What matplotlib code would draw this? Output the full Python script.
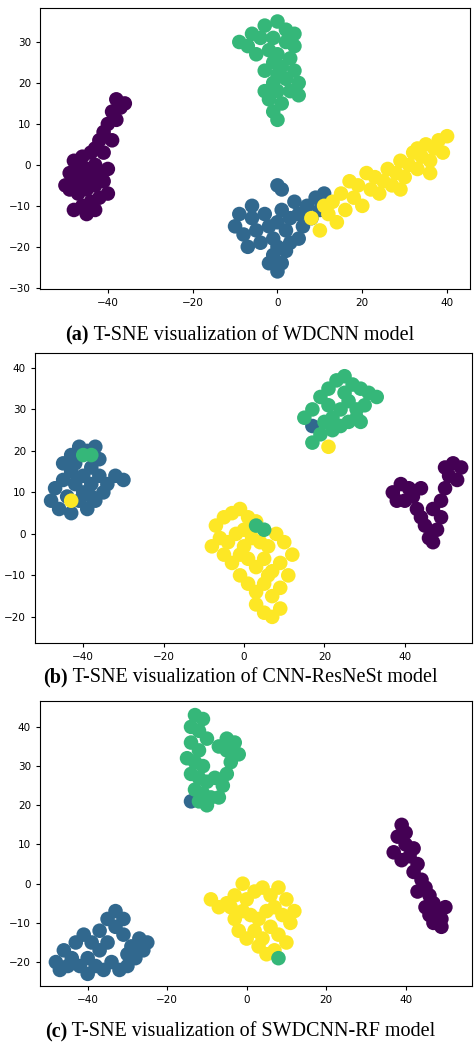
import matplotlib
matplotlib.use("Agg")
import matplotlib.pyplot as plt
import numpy as np

C = {"purple": "#440154", "blue": "#31688e", "green": "#35b779", "yellow": "#fde725"}

a_purple = [(-38,16),(-37,14),(-39,13),(-38,11),(-40,10),(-41,8),(-42,6),(-43,4),(-44,3),(-46,2),(-48,1),(-47,-1),(-45,-1),(-43,0),(-42,-2),(-44,-3),(-46,-4),(-48,-4),(-49,-6),(-47,-7),(-45,-6),(-43,-5),(-41,-4),(-40,-7),(-42,-8),(-44,-9),(-46,-10),(-48,-11),(-45,-12),(-43,-11),(-49,-2),(-50,-5),(-41,3),(-39,6),(-36,15),(-40,-1)]
a_green = [(-3,34),(0,35),(2,33),(-6,32),(-9,30),(-7,29),(-4,31),(-1,31),(2,30),(4,29),(-2,28),(0,27),(3,26),(-1,25),(1,24),(4,23),(-3,23),(0,22),(2,21),(5,20),(-1,20),(-3,18),(0,18),(3,18),(-2,16),(1,15),(-1,13),(0,11),(-5,27),(4,32),(5,17)]
a_blue = [(-9,-12),(-10,-15),(-8,-17),(-6,-13),(-5,-16),(-4,-19),(-3,-12),(-2,-15),(-1,-18),(0,-14),(1,-11),(2,-16),(3,-13),(4,-9),(5,-12),(6,-15),(7,-10),(8,-13),(9,-8),(10,-11),(11,-7),(0,-20),(-1,-22),(1,-24),(0,-26),(2,-21),(-2,-24),(-6,-10),(-7,-20),(3,-19),(5,-18),(1,-6),(0,-5),(12,-9)]
a_yellow = [(8,-13),(10,-16),(12,-12),(13,-9),(14,-14),(15,-7),(16,-11),(18,-8),(19,-5),(20,-10),(22,-6),(23,-3),(24,-7),(25,-4),(26,-1),(27,-5),(28,-2),(29,1),(30,-3),(31,0),(32,3),(33,-1),(34,2),(35,5),(36,1),(37,4),(38,6),(39,3),(40,7),(36,-2),(33,4),(17,-4),(21,-2),(11,-10),(29,-6)]

b_blue = [(-48,8),(-46,6),(-44,9),(-47,11),(-45,13),(-43,15),(-45,17),(-43,19),(-41,21),(-39,20),(-37,21),(-36,18),(-38,16),(-40,14),(-42,12),(-40,10),(-38,12),(-36,14),(-34,12),(-32,14),(-30,13),(-37,8),(-39,6),(-41,8),(-43,5),(-35,10),(-42,17),(-38,9),(17,26)]
b_green = [(15,28),(17,30),(19,33),(21,35),(23,37),(25,38),(27,36),(29,35),(31,34),(33,33),(30,31),(28,30),(26,32),(24,30),(22,28),(20,27),(22,25),(24,26),(26,27),(28,28),(19,24),(17,22),(21,31),(25,34),(29,27),(-38,19),(-40,19),(5,1),(3,2)]
b_purple = [(37,10),(39,12),(41,11),(40,8),(42,9),(43,6),(44,4),(45,2),(46,-1),(47,-2),(48,1),(49,4),(49,8),(50,11),(51,14),(52,17),(54,16),(53,13),(50,16),(47,6),(44,11),(38,8)]
b_yellow = [(-7,2),(-5,4),(-3,5),(-1,6),(1,4),(3,3),(-6,-1),(-4,-2),(-2,0),(0,1),(2,-1),(4,-2),(6,-3),(8,0),(10,-2),(12,-5),(-5,-5),(-3,-7),(-1,-5),(1,-6),(3,-8),(5,-6),(7,-9),(9,-7),(11,-10),(-1,-10),(1,-12),(3,-14),(5,-12),(7,-15),(9,-13),(3,-17),(5,-19),(7,-20),(9,-18),(6,-10),(0,-3),(-8,-3),(-43,8),(21,21)]

c_green = [(-13,43),(-11,42),(-14,40),(-12,39),(-10,37),(-14,36),(-12,34),(-15,32),(-13,31),(-11,30),(-14,28),(-12,27),(-10,26),(-13,24),(-11,23),(-9,22),(-12,21),(-10,20),(-7,22),(-6,25),(-5,28),(-4,31),(-5,34),(-3,36),(-5,37),(-7,35),(-2,33),(-8,27),(8,-19)]
c_purple = [(39,15),(38,12),(40,10),(37,8),(39,6),(41,7),(43,5),(42,3),(44,1),(45,-1),(43,-2),(46,-3),(47,-5),(45,-6),(48,-7),(49,-9),(47,-10),(49,-11),(46,-8),(50,-6),(40,13),(42,9)]
c_yellow = [(-9,-4),(-7,-6),(-5,-5),(-3,-3),(-1,0),(0,-4),(2,-2),(4,-1),(6,-3),(8,-1),(10,-4),(12,-7),(11,-10),(9,-8),(7,-6),(5,-7),(3,-9),(1,-8),(-1,-7),(-3,-9),(-2,-12),(0,-14),(2,-12),(4,-14),(6,-11),(8,-13),(10,-15),(7,-17),(5,-18),(3,-16),(-4,-6)]
c_blue = [(-48,-20),(-46,-17),(-44,-19),(-42,-21),(-40,-23),(-38,-21),(-36,-22),(-34,-20),(-32,-22),(-30,-21),(-28,-19),(-26,-17),(-25,-15),(-27,-14),(-29,-16),(-31,-13),(-33,-11),(-35,-9),(-33,-7),(-31,-9),(-35,-15),(-37,-17),(-39,-15),(-41,-13),(-43,-15),(-45,-21),(-37,-12),(-30,-18),(-40,-19),(-47,-22),(-14,21)]

W, H = 474, 1046
panels = [
    ("(a)", " T-SNE visualization of WDCNN model", 40, 470, 8, 289, (-56, 45.4), (-30.3, 38.3),
     [-30, -20, -10, 0, 10, 20, 30], [("purple", a_purple), ("green", a_green), ("blue", a_blue), ("yellow", a_yellow)], 335),
    ("(b)", " T-SNE visualization of CNN-ResNeSt model", 35, 472, 353, 643, (-52, 56.7), (-26.3, 43.6),
     [-20, -10, 0, 10, 20, 30, 40], [("purple", b_purple), ("blue", b_blue), ("yellow", b_yellow), ("green", b_green)], 677),
    ("(c)", " T-SNE visualization of SWDCNN-RF model", 40, 472, 701, 986, (-52, 56.7), (-26.1, 46.6),
     [-20, -10, 0, 10, 20, 30, 40], [("purple", c_purple), ("blue", c_blue), ("yellow", c_yellow), ("green", c_green)], 1032),
]

fig = plt.figure(figsize=(W / 100, H / 100), dpi=100)
fig.canvas.draw()
r = fig.canvas.get_renderer()
for lab, cap, L, R, T, B, xl, yl, yt, groups, cy in panels:
    ax = fig.add_axes([L / W, 1 - B / H, (R - L) / W, (B - T) / H])
    for col, pts in groups:
        p = np.array(pts)
        ax.scatter(p[:, 0], p[:, 1], s=110, c=C[col], edgecolors="none")
    ax.set_xlim(*xl); ax.set_ylim(*yl)
    ax.set_xticks([-40, -20, 0, 20, 40])
    ax.set_yticks(yt)
    ax.tick_params(labelsize=7.5, length=3)
    t1 = fig.text(0, 1 - cy / H, lab, fontsize=14.5, family="Liberation Serif",
                  fontweight="bold", ha="left", va="center")
    t2 = fig.text(0, 1 - cy / H, cap, fontsize=14.5, family="Liberation Serif",
                  ha="left", va="center")
    w1 = t1.get_window_extent(r).width
    w2 = t2.get_window_extent(r).width
    x0 = (W / 2 + 3) - (w1 + w2) / 2
    t1.set_x(x0 / W)
    t2.set_x((x0 + w1) / W)

fig.savefig("out.png", dpi=100)
